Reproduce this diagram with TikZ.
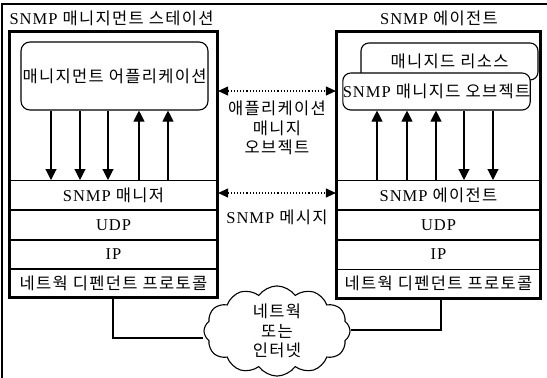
\documentclass[tikz,border=0pt]{standalone}
\usepackage{fontspec}
\setmainfont{Liberation Serif}[LetterSpace=6]
\newfontfamily\kr{Noto Sans CJK KR}[LetterSpace=8]
\usetikzlibrary{arrows.meta,shapes.symbols}
\newcommand{\K}[1]{{\kr #1}}
\tikzset{
  base/.style={font=\fontsize{16.5}{19.5}\selectfont, inner sep=0pt},
  station/.style={draw, line width=2.2pt},
  layer/.style={base, draw, line width=1pt, minimum height=29pt},
  roundbox/.style={base, draw, line width=1.1pt, rounded corners=9pt, fill=white},
  vline/.style={line width=1.1pt},
  dn/.style={vline, -{Triangle[length=11pt,width=11pt]}},
  up/.style={vline, {Triangle[length=11pt,width=11pt]}-},
  dotarr/.style={line width=1.1pt, dotted, {Triangle[length=10pt,width=9pt]}-{Triangle[length=10pt,width=9pt]}},
  txt/.style={base, align=center},
}
\begin{document}
\begin{tikzpicture}[x=1pt,y=-1pt]
\useasboundingbox (0,0) rectangle (547,378);
% outer frame
\draw[line width=2pt] (2,378) -- (2,4) -- (547,4);
% titles
\node[txt] (ltitle) at (111.5,18) {SNMP \K{매니지먼트 스테이션}};
\node[txt] (rtitle) at (439,18) {SNMP \K{에이전트}};
% left station
\node[station, minimum width=207pt, minimum height=265pt] (lst) at (113.5,164.5) {};
\node[roundbox, minimum width=187pt, minimum height=68pt] (lapp) at (114.5,76) {\K{매니지먼트 어플리케이션}};
\node[layer, minimum width=207pt] (lmgr) at (113.5,195) {SNMP \K{매니저}};
\node[layer, minimum width=207pt] (ludp) at (113.5,225) {UDP};
\node[layer, minimum width=207pt] (lip) at (113.5,254.5) {IP};
\node[layer, minimum width=207pt] (lnet) at (113.5,283) {\K{네트웍 디펜던트 프로토콜}};
\draw[station] (lst.north west) rectangle (lst.south east);
% right station
\node[station, minimum width=203pt, minimum height=266pt] (rst) at (438.5,165) {};
\node[roundbox, minimum width=177pt, minimum height=37pt, rounded corners=8pt] (rres) at (449.5,61.5) {\K{매니지드 리소스}};
\node[roundbox, minimum width=187pt, minimum height=37pt, rounded corners=8pt] (robj) at (436.5,91.5) {SNMP \K{매니지드 오브젝트}};
\node[layer, minimum width=203pt] (ragt) at (438.5,195) {SNMP \K{에이전트}};
\node[layer, minimum width=203pt] (rudp) at (438.5,225) {UDP};
\node[layer, minimum width=203pt] (rip) at (438.5,254.5) {IP};
\node[layer, minimum width=203pt] (rnet) at (438.5,283.5) {\K{네트웍 디펜던트 프로토콜}};
\draw[station] (rst.north west) rectangle (rst.south east);
% left arrows
\draw[dn] (lapp.south -| 51,0) -- (lmgr.north -| 51,0);
\draw[dn] (lapp.south -| 80,0) -- (lmgr.north -| 80,0);
\draw[dn] (lapp.south -| 108,0) -- (lmgr.north -| 108,0);
\draw[up] (lapp.south -| 139,0) -- (lmgr.north -| 139,0);
\draw[up] (lapp.south -| 168,0) -- (lmgr.north -| 168,0);
% right arrows
\draw[up] (robj.south -| 377,0) -- (ragt.north -| 377,0);
\draw[up] (robj.south -| 407,0) -- (ragt.north -| 407,0);
\draw[up] (robj.south -| 436,0) -- (ragt.north -| 436,0);
\draw[dn] (robj.south -| 464,0) -- (ragt.north -| 464,0);
\draw[dn] (robj.south -| 493,0) -- (ragt.north -| 493,0);
% middle dotted arrows
\draw[dotarr] (lst.east |- 0,91) -- (rst.west |- 0,91);
\node[txt] (appobj) at (277,128) {\K{애플리케이션}\\\K{매니지}\\\K{오브젝트}};
\draw[dotarr] (lst.east |- 0,193) -- (rst.west |- 0,193);
\node[txt] (msg) at (277,217) {SNMP \K{메시지}};
% cloud
\node[cloud, draw, line width=1.1pt, cloud puffs=12, cloud puff arc=110, aspect=1.6, minimum width=146pt, minimum height=90pt, inner sep=0pt, base, align=center] (net) at (277,331) {\K{네트웍}\\\K{또는}\\\K{인터넷}};
\draw[vline] (lst.south -| 113,0) |- (net.west |- 0,338);
\draw[vline] (rst.south -| 441,0) |- (net.east |- 0,330);
\end{tikzpicture}
\end{document}
